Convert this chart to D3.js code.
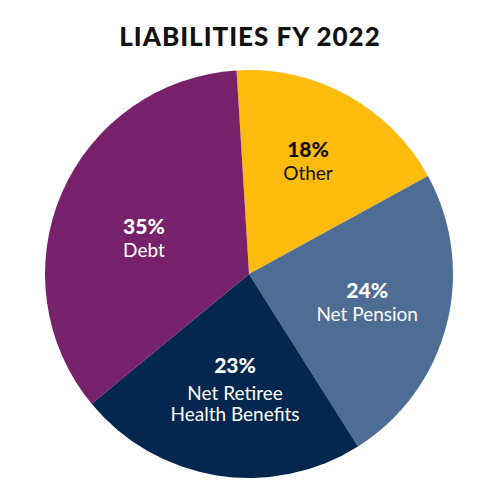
<!DOCTYPE html>
<html>
<head>
<meta charset="utf-8">
<script src="https://cdn.jsdelivr.net/npm/d3@7"></script>
<style>
	body { margin: 0; background: #fff; }
	text { font-family: Lato, "Open Sans", sans-serif; }
</style>
</head>
<body>
<div id="chart"></div>
<script>
	// data
	var labels = ["Other", "Net Pension", "Net Retiree\nHealth Benefits", "Debt"]
	var values = [18, 24, 23, 35]
	var colors = ["#FDBB0E", "#4E6D94", "#03274E", "#77226B"]

	var width = 500, height = 500
	var cx = 249, cy = 274, radius = 204
	// small hand nudges so the labels sit where the original put them
	var nudge = [[1, -8], [2, -2], [5, -3], [5, 12]]

	var svg = d3.select("#chart")
		.append("svg")
		.attr("width", width)
		.attr("height", height)

	svg.append("text")
		.attr("x", width / 2)
		.attr("y", 46)
		.style("text-anchor", "middle")
		.style("font-size", "26px")
		.style("font-weight", "900")
		.style("letter-spacing", "1px")
		.style("fill", "#111")
		.text("LIABILITIES FY 2022")

	var startA = -3.5 * Math.PI / 180
	var pie = d3.pie()
		.sort(null)
		.startAngle(startA)
		.endAngle(startA + 2 * Math.PI)

	var arcs = pie(values)

	var arc = d3.arc().innerRadius(0).outerRadius(radius)
	var labelArc = d3.arc().innerRadius(120).outerRadius(120)

	var g = svg.append("g")
		.attr("transform", "translate(" + cx + "," + cy + ")")

	g.selectAll("path")
		.data(arcs)
		.enter().append("path")
		.attr("d", arc)
		.style("fill", function (d, i) { return colors[i] })

	var lab = g.selectAll(".lab")
		.data(arcs)
		.enter().append("g")
		.attr("class", "lab")
		.attr("transform", function (d, i) {
			var c = labelArc.centroid(d)
			return "translate(" + (c[0] + nudge[i][0]) + "," + (c[1] + nudge[i][1]) + ")"
		})

	lab.each(function (d, i) {
		var el = d3.select(this)
		var lines = labels[i].split("\n")
		var txtCol = i == 0 ? "#111" : "#fff"
		var top = lines.length > 1 ? -16.5 : -4
		el.append("text")
			.attr("y", top)
			.style("text-anchor", "middle")
			.style("font-size", "21px")
			.style("font-weight", "900")
			.style("fill", txtCol)
			.text(values[i] + "%")
		lines.forEach(function (l, k) {
			el.append("text")
				.attr("y", top + (lines.length > 1 ? 27.5 : 23) + k * 21)
				.style("text-anchor", "middle")
				.style("font-size", "19px")
				.style("fill", txtCol)
				.text(l)
		})
	})
</script>
</body>
</html>
